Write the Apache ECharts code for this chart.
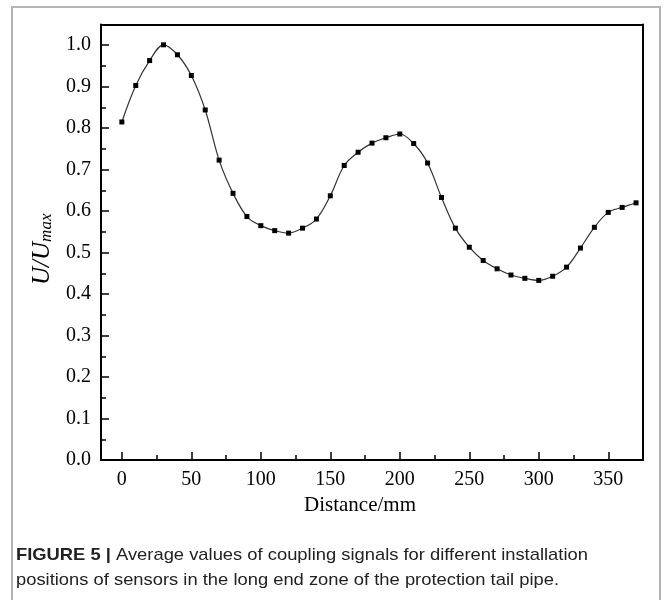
<!DOCTYPE html>
<html>
<head>
<meta charset="utf-8">
<style>
html,body{margin:0;padding:0;background:#fff;}
#c{width:664px;height:600px;}
</style>
<script src="https://cdn.jsdelivr.net/npm/echarts@6/dist/echarts.min.js"></script>
</head>
<body>
<div id="c"></div>
<script>
const distances = [0,10,20,30,40,50,60,70,80,90,100,110,120,130,140,150,160,170,180,190,200,210,220,230,240,250,260,270,280,290,300,310,320,330,340,350,360,370];
const ratios = [0.815,0.903,0.963,1.001,0.977,0.927,0.844,0.723,0.643,0.587,0.565,0.553,0.547,0.559,0.581,0.637,0.710,0.742,0.764,0.777,0.786,0.763,0.716,0.633,0.559,0.513,0.481,0.461,0.446,0.438,0.433,0.443,0.465,0.511,0.561,0.597,0.609,0.620];
const xTicks = [0,50,100,150,200,250,300,350];
const xMinorTicks = [25,75,125,175,225,275,325];
const yTicks = [0.0,0.1,0.2,0.3,0.4,0.5,0.6,0.7,0.8,0.9,1.0];
const yMinorTicks = [0.05,0.15,0.25,0.35,0.45,0.55,0.65,0.75,0.85,0.95];
const xTitle = 'Distance/mm';
const yTitleMain = 'U/U';
const yTitleSub = 'max';
const captionBold = 'FIGURE 5 |';
const captionLine1 = ' Average values of coupling signals for different installation';
const captionLine2 = 'positions of sensors in the long end zone of the protection tail pipe.';

const serif = '"Liberation Serif","DejaVu Serif",serif';
const sans = '"Liberation Sans",Arial,sans-serif';

const chart = echarts.init(document.getElementById('c'), null, {renderer:'canvas'});
const data = distances.map((d,i)=>[d, ratios[i]]);

chart.setOption({
  backgroundColor:'#fff',
  animation:false,
  grid:{left:101,right:21,top:24.5,bottom:140,containLabel:false},
  xAxis:[{
    type:'value', min:-15, max:375, interval:25,
    axisLine:{show:true,onZero:false,lineStyle:{color:'#000',width:2}},
    axisTick:{show:true,inside:true,length:8,lineStyle:{color:'#000',width:1.5},
      customValues: xTicks},
    axisLabel:{show:true,margin:10,color:'#000',fontFamily:serif,fontSize:20,
      customValues: xTicks, formatter:v=>String(v)},
    splitLine:{show:false},
    name:xTitle, nameLocation:'middle', nameGap:32,
    nameTextStyle:{color:'#000',fontFamily:serif,fontSize:21,padding:[0,24,0,0]}
  },{
    type:'value', min:-15, max:375, position:'top',
    axisLine:{show:true,onZero:false,lineStyle:{color:'#000',width:2}},
    axisTick:{show:false},axisLabel:{show:false},splitLine:{show:false}
  },{
    type:'value', min:-15, max:375, interval:25, position:'bottom',
    axisLine:{show:false,onZero:false},
    axisTick:{show:true,inside:true,length:5,lineStyle:{color:'#000',width:1.5},
      customValues:xMinorTicks},
    axisLabel:{show:false},splitLine:{show:false}
  }],
  yAxis:[{
    type:'value', min:0, max:1.05, interval:0.05,
    axisLine:{show:true,onZero:false,lineStyle:{color:'#000',width:2}},
    axisTick:{show:true,inside:true,length:8,lineStyle:{color:'#000',width:1.5},
      customValues: yTicks},
    axisLabel:{show:true,margin:10,color:'#000',fontFamily:serif,fontSize:20,
      customValues: yTicks, formatter:v=>v.toFixed(1)},
    splitLine:{show:false},
    name:'{a|'+yTitleMain+'}{b|'+yTitleSub+'}', nameLocation:'middle', nameRotate:90, nameGap:44,
    nameTextStyle:{
      padding:[0,14,0,0],
      rich:{
        a:{fontFamily:serif,fontStyle:'italic',fontSize:25,color:'#000'},
        b:{fontFamily:serif,fontStyle:'italic',fontSize:17,color:'#000',verticalAlign:'bottom',padding:[9,0,0,0]}
      }
    }
  },{
    type:'value', min:0, max:1.05, position:'right',
    axisLine:{show:true,onZero:false,lineStyle:{color:'#000',width:2}},
    axisTick:{show:false},axisLabel:{show:false},splitLine:{show:false}
  },{
    type:'value', min:0, max:1.05, interval:0.05, position:'left', offset:0,
    axisLine:{show:false,onZero:false},
    axisTick:{show:true,inside:true,length:5,lineStyle:{color:'#000',width:1.5},
      customValues:yMinorTicks},
    axisLabel:{show:false},splitLine:{show:false}
  }],
  series:[{
    type:'line', data:data, xAxisIndex:0, yAxisIndex:0,
    smooth:0.35, symbol:'rect', symbolSize:5, showSymbol:true,
    lineStyle:{color:'#333',width:1.2},
    itemStyle:{color:'#000'}
  }],
  graphic:[
    {type:'rect', shape:{x:12,y:7,width:648,height:600}, style:{fill:'none',stroke:'#b4b4b4',lineWidth:2}, silent:true},
    {type:'text', x:16, y:555, scaleX:1.08, style:{
      text:'{b|'+captionBold+'}'+captionLine1,
      rich:{b:{fontFamily:sans,fontWeight:'bold',fontSize:17,fill:'#222'}},
      fontFamily:sans,fontSize:17,fill:'#222',verticalAlign:'middle'}},
    {type:'text', x:16, y:580, scaleX:1.08, style:{
      text:captionLine2,
      fontFamily:sans,fontSize:17,fill:'#222',verticalAlign:'middle'}}
  ]
});
</script>
</body>
</html>
